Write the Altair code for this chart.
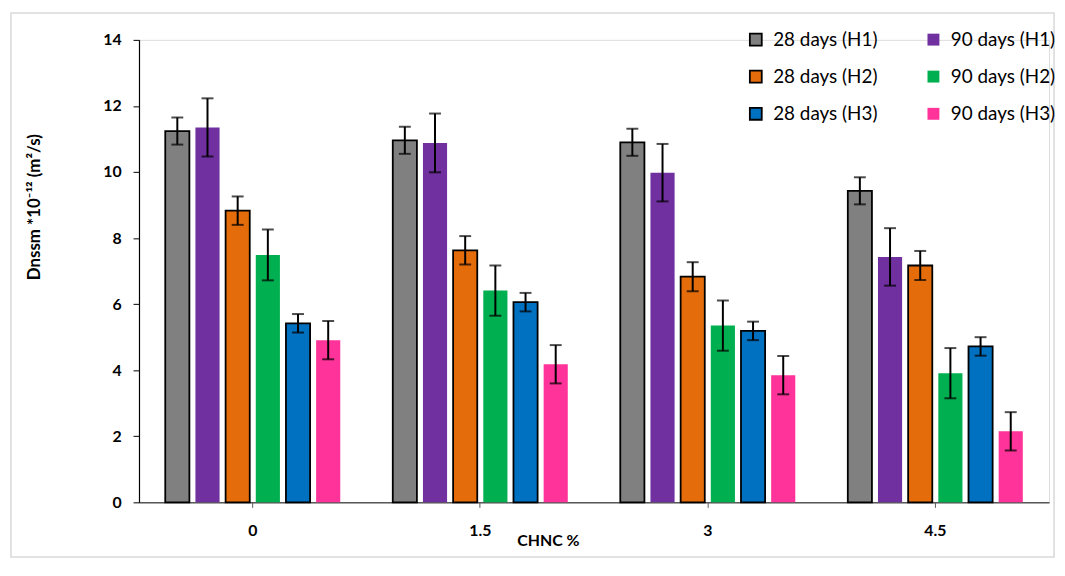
import altair as alt
import pandas as pd

categories = ["0", "1.5", "3", "4.5"]
series = ["28 days (H1)", "90 days (H1)", "28 days (H2)", "90 days (H2)", "28 days (H3)", "90 days (H3)"]
colors = ["#808080", "#7030A0", "#E46C0A", "#00B050", "#0070C0", "#FF3399"]
strokes = ["black", "transparent", "black", "transparent", "black", "transparent"]
legend_order = ["28 days (H1)", "28 days (H2)", "28 days (H3)", "90 days (H1)", "90 days (H2)", "90 days (H3)"]

v_28_h1 = [11.24, 10.96, 10.90, 9.43]
v_90_h1 = [11.35, 10.88, 9.98, 7.43]
v_28_h2 = [8.83, 7.63, 6.83, 7.17]
v_90_h2 = [7.49, 6.41, 5.35, 3.91]
v_28_h3 = [5.42, 6.06, 5.19, 4.72]
v_90_h3 = [4.91, 4.18, 3.85, 2.15]

e_28_h1 = [0.41, 0.41, 0.41, 0.41]
e_90_h1 = [0.88, 0.89, 0.87, 0.87]
e_28_h2 = [0.43, 0.43, 0.44, 0.44]
e_90_h2 = [0.77, 0.76, 0.76, 0.76]
e_28_h3 = [0.28, 0.28, 0.28, 0.28]
e_90_h3 = [0.58, 0.58, 0.58, 0.58]

vals = [v_28_h1, v_90_h1, v_28_h2, v_90_h2, v_28_h3, v_90_h3]
errs = [e_28_h1, e_90_h1, e_28_h2, e_90_h2, e_28_h3, e_90_h3]

rows = []
for s, vs, es in zip(series, vals, errs):
    for c, v, e in zip(categories, vs, es):
        rows.append({"chnc": c, "series": s, "value": v, "lo": v - e, "hi": v + e})
df = pd.DataFrame(rows)

color_map = dict(zip(series, colors))
stroke_map = dict(zip(series, strokes))
legend_colors = [color_map[s] for s in legend_order]
legend_strokes = [stroke_map[s] for s in legend_order]

FONT = "Lato"

x_enc = alt.X(
    "chnc:N", sort=categories,
    scale=alt.Scale(paddingInner=0, paddingOuter=0),
    axis=alt.Axis(
        title="CHNC %", labelAngle=0, labelFont=FONT, labelFontSize=16, labelFontWeight="bold",
        labelColor="black", labelPadding=15, tickSize=5, tickColor="#595959",
        domainColor="#595959", domainWidth=1.5,
        titleFont=FONT, titleFontSize=16, titleFontWeight="bold", titleColor="black",
        titleX=412, titleY=38, titleAlign="center", titleBaseline="middle",
    ),
)
xoff = alt.XOffset("series:N", sort=series, scale=alt.Scale(paddingInner=0.2, paddingOuter=0.87))

y_axis = alt.Axis(
    title="Dnssm *10⁻¹² (m²/s)", values=[0, 2, 4, 6, 8, 10, 12, 14], grid=False,
    labelFont=FONT, labelFontSize=16, labelFontWeight="bold", labelColor="black",
    labelPadding=12, tickSize=6, tickColor="black", domainColor="black", domainWidth=1.2,
    titleFont=FONT, titleFontSize=17, titleFontWeight="bold", titleColor="black",
    titleX=-105, titleY=168, titleAlign="center", titleBaseline="middle", titleAngle=-90,
)
y_scale = alt.Scale(domain=[0, 14], nice=False)

bars = alt.Chart(df).mark_bar(strokeWidth=1.8).encode(
    x=x_enc,
    xOffset=xoff,
    y=alt.Y("value:Q", scale=y_scale, axis=y_axis),
    color=alt.Color(
        "series:N",
        scale=alt.Scale(domain=legend_order, range=legend_colors),
        legend=alt.Legend(
            title=None, orient="none", legendX=612, legendY=-10, columns=2,
            symbolType="square", symbolSize=144, symbolStrokeWidth=1.8,
            labelFont=FONT, labelFontSize=19, labelColor="black", labelOffset=8,
            labelLimit=300, columnPadding=45, rowPadding=16.5, padding=0, symbolOpacity=1,
        ),
    ),
    stroke=alt.Stroke(
        "series:N",
        scale=alt.Scale(domain=legend_order, range=legend_strokes),
    ),
)

err_rule = alt.Chart(df).mark_rule(color="black", strokeWidth=2).encode(
    x=alt.X("chnc:N", sort=categories),
    xOffset=xoff,
    y=alt.Y("lo:Q", scale=y_scale),
    y2="hi:Q",
)
cap_hi = alt.Chart(df).mark_tick(color="black", thickness=2, size=12, orient="horizontal").encode(
    x=alt.X("chnc:N", sort=categories),
    xOffset=xoff,
    y=alt.Y("hi:Q", scale=y_scale),
)
cap_lo = alt.Chart(df).mark_tick(color="black", thickness=2, size=12, orient="horizontal").encode(
    x=alt.X("chnc:N", sort=categories),
    xOffset=xoff,
    y=alt.Y("lo:Q", scale=y_scale),
)

frame = alt.Chart(pd.DataFrame({"a": [0]})).mark_rect(fill="transparent", stroke="#d9d9d9", strokeWidth=1.5).encode(
    x=alt.value(-129), x2=alt.value(922), y=alt.value(-27), y2=alt.value(521)
)

chart = alt.layer(frame, bars, err_rule, cap_hi, cap_lo).properties(
    width=917, height=466,
    autosize=alt.AutoSizeParams(type="none"),
    padding={"left": 132, "top": 30, "right": 8, "bottom": 58},
).configure_view(stroke=None).configure(background="white")

chart.save("out.html", embed_options={"renderer": "svg", "actions": False})
